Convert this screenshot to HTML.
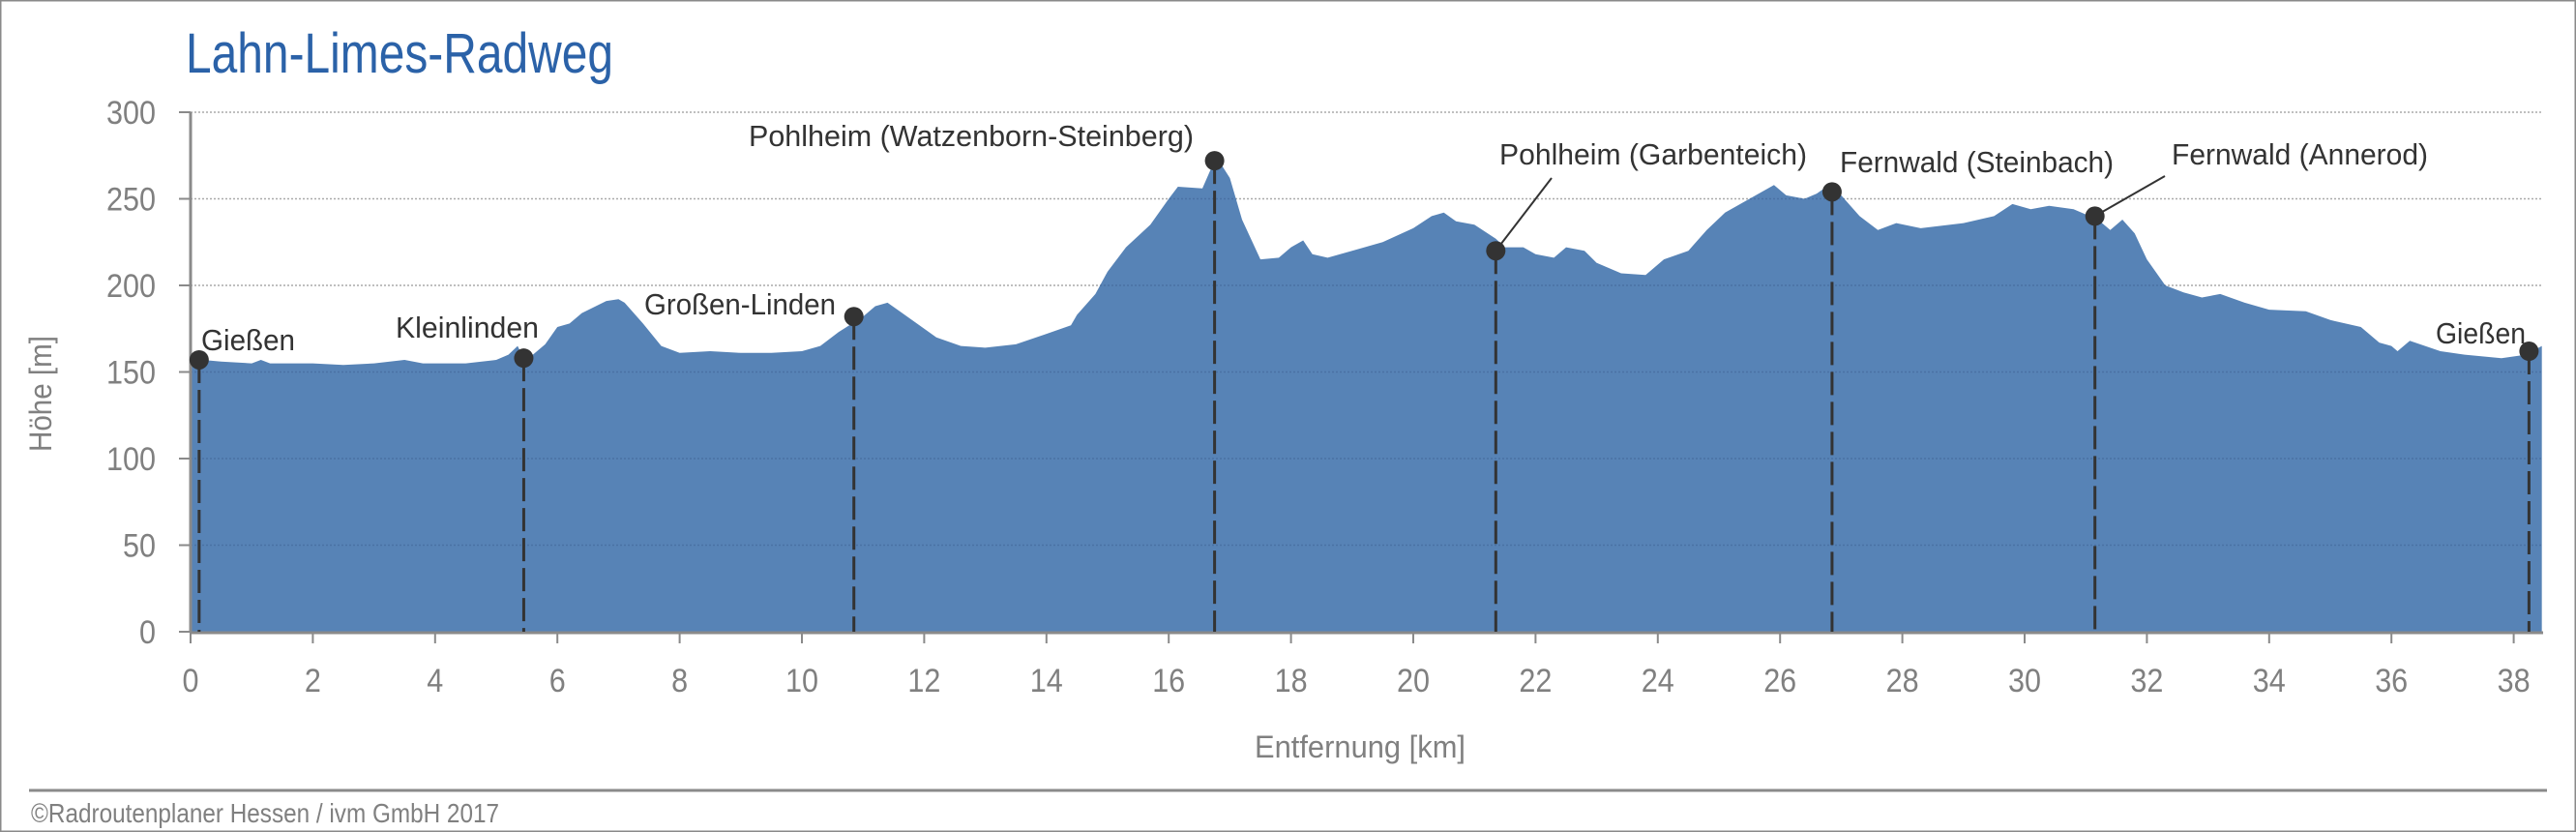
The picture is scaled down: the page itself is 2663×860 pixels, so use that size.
<!DOCTYPE html>
<html><head><meta charset="utf-8"><style>
html,body{margin:0;padding:0;background:#fff;}
svg{display:block;font-family:"Liberation Sans Narrow","Liberation Sans",sans-serif;}
</style></head><body>
<svg id="c" width="2663" height="860" viewBox="0 0 2663 860" xmlns="http://www.w3.org/2000/svg">
<defs><clipPath id="cp"><path id="cpath" d=""/></clipPath></defs>
<rect x="0.5" y="0.5" width="2662" height="859" fill="#fff" stroke="#8a8a8a" stroke-width="2"/>
<text x="192" y="75" font-size="58" fill="#2b62a8" textLength="442" lengthAdjust="spacingAndGlyphs">Lahn-Limes-Radweg</text>
<g id="grid"></g>
<path id="area" fill="#5783b6" d=""/>
<g id="grid2" clip-path="url(#cp)"></g>
<g id="axes"></g>
<g id="marks"></g>
<text x="1406" y="783" font-size="32" fill="#808080" text-anchor="middle" textLength="218" lengthAdjust="spacingAndGlyphs">Entfernung [km]</text>
<text transform="translate(53,407) rotate(-90)" font-size="32" fill="#808080" text-anchor="middle" textLength="120" lengthAdjust="spacingAndGlyphs">Höhe [m]</text>
<line x1="30" y1="817" x2="2633" y2="817" stroke="#8a8a8a" stroke-width="3"/>
<text x="32" y="850" font-size="28" fill="#808080" textLength="484" lengthAdjust="spacingAndGlyphs">©Radroutenplaner Hessen / ivm GmbH 2017</text>
</svg>
<script>
var X=function(k){return 197+63.2*k;}, Y=function(m){return 653-1.79*m;};
var d=[[0,160],[0.05,157],[0.2,157],[0.5,156],[1,155],[1.15,157],[1.3,155],[2,155],[2.5,154],[3,155],[3.5,157],[3.8,155],[4.5,155],[5,157],[5.2,160],[5.35,165],[5.45,158],[5.6,160],[5.8,166],[6.0,176],[6.2,178],[6.4,184],[6.8,191],[7.0,192],[7.1,190],[7.4,178],[7.7,165],[8,161],[8.5,162],[9,161],[9.5,161],[10,162],[10.3,165],[10.6,173],[11,182],[11.2,188],[11.4,190],[11.6,185],[12,175],[12.2,170],[12.6,165],[13,164],[13.5,166],[14,172],[14.4,177],[14.5,183],[14.8,195],[15,208],[15.3,222],[15.7,235],[16,250],[16.15,257],[16.55,256],[16.7,268],[16.8,273],[17,262],[17.2,238],[17.5,215],[17.8,216],[18.0,222],[18.2,226],[18.35,218],[18.6,216],[19,220],[19.5,225],[20,233],[20.3,240],[20.5,242],[20.7,237],[21,235],[21.35,227],[21.5,222],[21.8,222],[22,218],[22.3,216],[22.5,222],[22.8,220],[23,213],[23.4,207],[23.8,206],[24.1,215],[24.5,220],[24.8,232],[25.1,242],[25.5,250],[25.9,258],[26.1,252],[26.4,250],[26.6,253],[26.8,258],[27,252],[27.3,240],[27.6,232],[27.9,236],[28.3,233],[29,236],[29.5,240],[29.8,247],[30.1,244],[30.4,246],[30.8,244],[31.2,238],[31.4,232],[31.6,238],[31.8,230],[32,215],[32.3,200],[32.6,196],[32.9,193],[33.2,195],[33.6,190],[34,186],[34.6,185],[35,180],[35.5,176],[35.8,167],[36,165],[36.1,162],[36.3,168],[36.8,162],[37.2,160],[37.8,158],[38.2,160],[38.46,165]];
var p="M"+X(0)+","+Y(0);d.forEach(function(q){p+=" L"+X(q[0]).toFixed(1)+","+Y(q[1]).toFixed(1);});p+=" L"+X(38.46)+","+Y(0)+" Z";
document.getElementById('area').setAttribute('d',p);
document.getElementById('cpath').setAttribute('d',p);
var ns="http://www.w3.org/2000/svg";
function el(par,t,a,txt){var e=document.createElementNS(ns,t);for(var k in a)e.setAttribute(k,a[k]);if(txt!=null)e.textContent=txt;document.getElementById(par).appendChild(e);return e;}
for(var m=50;m<=300;m+=50){el('grid','line',{x1:197,x2:2628,y1:Y(m),y2:Y(m),stroke:'#aaa','stroke-width':1.5,'stroke-dasharray':'2 2'});
el('grid2','line',{x1:197,x2:2628,y1:Y(m),y2:Y(m),stroke:'#4a72a4','stroke-width':1.5,'stroke-dasharray':'2 2'});}
el('axes','line',{x1:197,x2:197,y1:Y(300),y2:Y(0),stroke:'#8a8a8a','stroke-width':3});
el('axes','line',{x1:197,x2:2629,y1:Y(0)+1,y2:Y(0)+1,stroke:'#8a8a8a','stroke-width':3});
for(var m=0;m<=300;m+=50){var s=String(m);el('axes','line',{x1:185,x2:197,y1:Y(m),y2:Y(m),stroke:'#8a8a8a','stroke-width':2});
el('axes','text',{x:161,y:Y(m)+12,'font-size':34,fill:'#808080','text-anchor':'end',textLength:s.length*17,lengthAdjust:'spacingAndGlyphs'},s);}
for(var k=0;k<=38;k+=2){var s=String(k);el('axes','line',{x1:X(k),x2:X(k),y1:Y(0),y2:Y(0)+12,stroke:'#8a8a8a','stroke-width':2});
el('axes','text',{x:X(k),y:715,'font-size':34,fill:'#808080','text-anchor':'middle',textLength:s.length*17,lengthAdjust:'spacingAndGlyphs'},s);}
var M=[[0.14,157,'Gießen',208,362,'start',97],[5.45,158,'Kleinlinden',557,349,'end',148],[10.85,182,'Großen-Linden',864,325,'end',198],[16.75,272,'Pohlheim (Watzenborn-Steinberg)',1234,151,'end',460],[21.35,220,'Pohlheim (Garbenteich)',1550,170,'start',318],[26.85,254,'Fernwald (Steinbach)',1902,178,'start',283],[31.15,240,'Fernwald (Annerod)',2245,170,'start',265],[38.25,162,'Gießen',2611,355,'end',93]];
el('marks','line',{x1:1604,y1:184,x2:X(21.35),y2:Y(220),stroke:'#333','stroke-width':2});
el('marks','line',{x1:2238,y1:182,x2:X(31.15),y2:Y(240),stroke:'#333','stroke-width':2});
M.forEach(function(q){var x=X(q[0]);el('marks','line',{x1:x,x2:x,y1:Y(q[1]),y2:Y(0),stroke:'#333','stroke-width':3,'stroke-dasharray':'24 7'});
el('marks','circle',{cx:x,cy:Y(q[1]),r:10,fill:'#333'});
el('marks','text',{x:q[3],y:q[4],'font-size':31,fill:'#333','text-anchor':q[5],textLength:q[6],lengthAdjust:'spacingAndGlyphs'},q[2]);});
</script>
</body></html>
